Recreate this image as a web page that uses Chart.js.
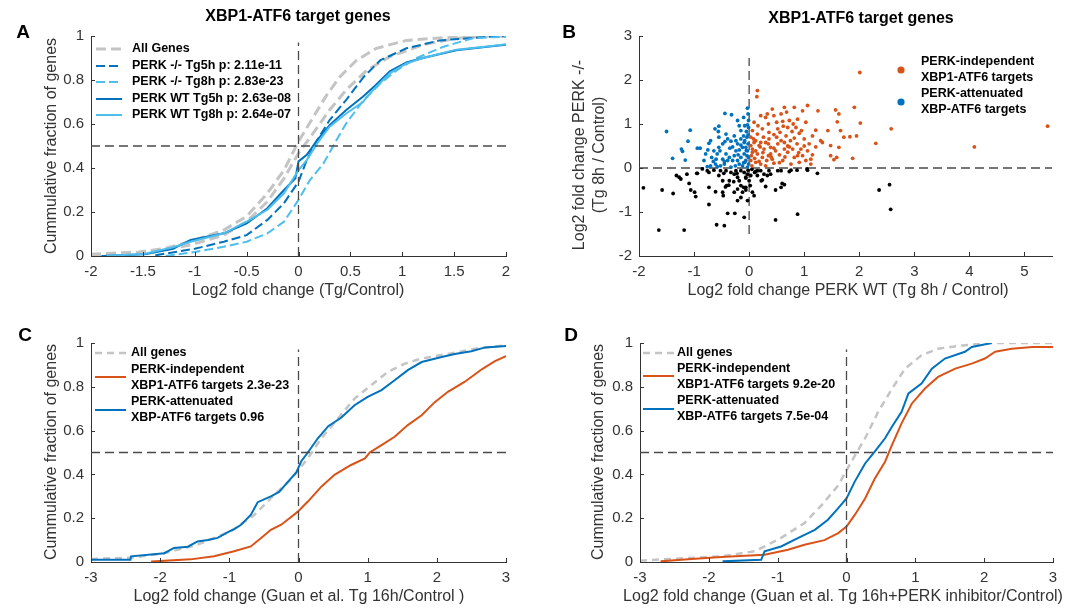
<!DOCTYPE html>
<html lang="en">
<head>
<meta charset="UTF-8">
<title>XBP1-ATF6 target genes</title>
<script src="https://cdn.jsdelivr.net/npm/chart.js"></script>
<style>
    body { margin: 0; background: #fff; }
    #wrap { position: relative; width: 1079px; height: 608px; }
    canvas { position: absolute; left: 0; top: 0; }
</style>
</head>
<body>
<div id="wrap">
    <canvas id="chartA" width="1079" height="608"></canvas>
    <canvas id="chartB" width="1079" height="608"></canvas>
    <canvas id="chartC" width="1079" height="608"></canvas>
    <canvas id="chartD" width="1079" height="608"></canvas>
</div>

<script>
    // ---- tick labels ----
    const aXTicks = [-2, -1.5, -1, -0.5, 0, 0.5, 1, 1.5, 2];
    const cdfYTicks = [0, 0.2, 0.4, 0.6, 0.8, 1];
    const bXTicks = [-2, -1, 0, 1, 2, 3, 4, 5];
    const bYTicks = [-2, -1, 0, 1, 2, 3];
    const cdXTicks = [-3, -2, -1, 0, 1, 2, 3];

    // ---- panel A: cumulative fractions ----
    const aAllX1 = [-2, -1.54, -1.28, -1.04, -0.72, -0.5, -0.3, -0.14, 0, 0.14, 0.27, 0.4, 0.56, 0.75, 1.04, 1.52, 2];
    const aAllY1 = [0.008, 0.018, 0.035, 0.065, 0.118, 0.18, 0.285, 0.39, 0.52, 0.63, 0.73, 0.815, 0.89, 0.944, 0.98, 0.997, 1.0];
    const aAllX2 = [-2, -1.54, -1.28, -1.04, -0.72, -0.5, -0.3, -0.14, 0, 0.14, 0.3, 0.46, 0.66, 0.88, 1.2, 1.52, 1.84, 2];
    const aAllY2 = [0.005, 0.015, 0.03, 0.05, 0.095, 0.156, 0.247, 0.353, 0.467, 0.557, 0.664, 0.755, 0.845, 0.906, 0.96, 0.99, 1.0, 1.0];
    const aKo5X = [-1.38, -1.0, -0.72, -0.5, -0.3, -0.14, 0, 0.08, 0.18, 0.3, 0.46, 0.63, 0.79, 1.04, 1.36, 1.84, 2];
    const aKo5Y = [0.003, 0.033, 0.065, 0.095, 0.164, 0.24, 0.338, 0.436, 0.527, 0.618, 0.71, 0.815, 0.89, 0.944, 0.98, 0.997, 1.0];
    const aKo8X = [-1.28, -1.0, -0.72, -0.5, -0.3, -0.14, 0, 0.11, 0.24, 0.34, 0.46, 0.63, 0.79, 0.95, 1.14, 1.39, 1.68, 2];
    const aKo8Y = [0.0, 0.018, 0.042, 0.065, 0.103, 0.156, 0.255, 0.345, 0.42, 0.505, 0.603, 0.71, 0.785, 0.845, 0.9, 0.95, 0.99, 0.997];
    const aWt5X = [-1.9, -1.48, -1.21, -1.04, -0.72, -0.5, -0.3, -0.14, -0.03, 0, 0.08, 0.18, 0.3, 0.46, 0.62, 0.74, 0.88, 1.04, 1.2, 1.52, 1.84, 2];
    const aWt5Y = [0.0, 0.008, 0.033, 0.073, 0.103, 0.148, 0.217, 0.3, 0.353, 0.43, 0.46, 0.527, 0.595, 0.664, 0.724, 0.775, 0.84, 0.88, 0.9, 0.935, 0.952, 0.96];
    const aWt8X = [-1.85, -1.48, -1.21, -1.04, -0.72, -0.5, -0.3, -0.14, 0, 0.08, 0.18, 0.3, 0.46, 0.62, 0.74, 0.88, 1.04, 1.2, 1.52, 1.84, 2];
    const aWt8Y = [0.0, 0.01, 0.04, 0.065, 0.103, 0.156, 0.21, 0.285, 0.39, 0.436, 0.512, 0.588, 0.648, 0.7, 0.765, 0.83, 0.875, 0.9, 0.938, 0.953, 0.962];
    const aLegend = ['All Genes', 'PERK -/- Tg5h p: 2.11e-11', 'PERK -/- Tg8h p: 2.83e-23', 'PERK WT Tg5h p: 2.63e-08', 'PERK WT Tg8h p: 2.64e-07'];

    // ---- panel B: scatter points ----
    const bBlackX = [-1.92, -1.58, -1.38, -1.64, -1.18, -1.32, -1.27, -1.24, -1.13, -1.09, -1.06, -0.99, -0.97, -0.95, -0.73, -0.73, -0.59, -0.45, -0.39, -0.26,
        -0.41, -0.36, -0.27, -0.21, -0.18, -0.15, -0.10, -0.06, -0.21, -0.48, -0.47, -0.21, -0.15, -0.09, -0.03, 0.06, 0.09, 0.15, 0.21, 0.27,
        0.36, 0.52, 0.58, 0.76, 0.87, 0.48, 0.88, 0.64, 0.58, 0.22, 0.15, 0.03, -0.03, -0.09, -0.15, -0.24, -0.33, -0.42, -0.52, -0.64,
        -0.76, -0.85, -0.94, 1.24, -0.06, 0.00, -0.48, -0.55, -0.27, -0.12, 0.02, 0.33, 0.39, 0.73, 2.36, 2.55, 2.57, 1.05,
        -0.73, -0.46, -0.22, -0.06, -0.28, -0.43, -0.61, -0.37, -0.06, 0.12, 0.24, 0.30, 0.48, 0.60, 1.06, -0.02, 0.05, 0.10];
    const bBlackY = [-0.45, -0.50, -0.58, -1.41, -1.41, -0.17, -0.21, -0.25, -0.14, -0.35, -0.50, -0.55, -0.65, -0.12, -0.44, -0.83, -1.29, -1.31, -1.03, -1.03,
        -0.40, -0.29, -0.14, -0.21, -0.29, -0.40, -0.44, -0.44, -0.48, -0.55, -0.63, -0.74, -0.67, -1.12, -0.74, -0.55, -0.63, -0.06, -0.06, -0.14,
        -0.06, -0.06, -0.06, -0.05, -0.05, -1.18, -1.05, -0.38, -0.44, -0.29, -0.17, -0.17, -0.14, -0.10, -0.06, -0.06, -0.10, -0.06, -0.06, -0.05,
        -0.06, -0.02, -0.12, -0.12, -0.21, -0.29, -0.29, -0.17, -0.55, -0.55, -0.40, -0.17, -0.14, -0.08, -0.50, -0.38, -0.94, -0.02,
        -0.10, -0.12, -0.12, -0.23, -0.31, -0.43, -0.54, -0.39, -0.50, -0.08, -0.27, -0.42, -0.50, -0.35, -0.05, -0.05, -0.03, -0.10];
    const bBlueX = [-1.50, -1.07, -1.11, -1.23, -1.21, -1.39, -1.16, -0.94, -0.89, -0.73, -0.75, -0.79, -0.68, -0.65, -0.76, -0.62, -0.56, -0.55, -0.44, -0.32,
        -0.42, -0.39, -0.33, -0.27, -0.21, -0.18, -0.15, -0.10, -0.08, -0.03, -0.02, -0.04, -0.09, -0.12, -0.21, -0.24, -0.27, -0.30, -0.36, -0.42,
        -0.48, -0.53, -0.58, -0.61, -0.52, -0.45, -0.39, -0.21, -0.15, -0.09, -0.06, -0.03, -0.02, -0.01, -0.12, -0.18, -0.33, -0.55, -0.64, -0.48,
        -0.44, -0.30, -0.18, -0.10, -0.05, -0.15, -0.24, -0.82, -0.70, -0.58, -0.01, -0.01, -0.01, -0.03, -0.04, -0.06, -0.08,
        -0.25, -0.20, -0.10, -0.05, -0.35, -0.45, -0.60, -0.15, -0.08, -0.02, -0.03, -0.55, -0.70];
    const bBlueY = [0.83, 0.86, 0.61, 0.43, 0.38, 0.22, 0.18, 0.45, 0.45, 0.56, 0.41, 0.32, 0.24, 0.15, 0.03, 0.89, 0.83, 0.70, 1.24, 1.21,
        0.77, 0.66, 0.61, 0.73, 1.08, 0.96, 0.85, 1.15, 0.96, 1.36, 1.23, 0.70, 0.58, 0.47, 0.55, 0.39, 0.28, 0.17, 0.24, 0.32,
        0.20, 0.39, 0.32, 0.09, 0.05, 0.09, 0.17, 0.17, 0.24, 0.32, 0.17, 0.39, 0.55, 0.09, 0.05, 0.09, 0.02, 0.47, 0.39, 0.55,
        0.60, 0.48, 0.41, 0.73, 0.83, 0.66, 0.62, 0.17, 0.05, 0.03, 1.08, 0.92, 0.24, 0.02, 0.28, 0.47, 0.13,
        0.05, 0.30, 0.12, 0.40, 0.45, 0.15, 0.20, 0.52, 0.62, 0.75, 0.98, 0.95, 0.62];
    const bOrangeX = [0.15, 0.14, 0.21, 0.30, 0.42, 0.45, 0.58, 0.68, 0.82, 0.97, 1.06, 0.09, 0.16, 0.24, 0.35, 0.50, 0.61, 0.73, 0.88, 1.03,
        0.06, 0.15, 0.26, 0.36, 0.45, 0.56, 0.67, 0.78, 0.91, 1.00, 0.09, 0.18, 0.27, 0.39, 0.52, 0.64, 0.75, 0.87, 0.94, 1.06,
        0.06, 0.15, 0.24, 0.35, 0.42, 0.55, 0.70, 0.82, 0.97, 1.12, 0.03, 0.12, 0.21, 0.32, 0.45, 0.61, 0.76, 0.91, 1.03, 1.12,
        0.06, 0.08, 0.36, 0.58, 0.73, 0.82, 1.09, 0.03, 0.03, 0.04, 0.12, 0.21, 0.30, 0.39, 0.48, 0.64, 0.79, 0.88, 0.52, 0.70,
        0.85, 0.33, 0.64, 2.01, 1.21, 1.30, 1.43, 1.57, 1.63, 1.60, 1.66, 1.72, 1.83, 1.91, 1.95, 2.02, 2.58, 2.30, 4.09, 1.33,
        1.48, 1.54, 1.59, 1.88, 1.63, 1.48, 1.15, 1.21, 1.25, 5.42, 0.05, 0.10, 0.18, 0.25, 0.30, 0.40, 0.45, 0.55, 0.65, 0.70,
        0.20, 0.12, 0.35, 0.50, 0.62, 0.80, 0.95, 1.00, 0.90, 1.15];
    const bOrangeY = [1.76, 1.62, 1.19, 1.15, 1.34, 1.19, 1.23, 1.27, 1.38, 1.30, 1.42, 1.04, 0.96, 0.89, 1.00, 1.04, 1.06, 1.08, 1.11, 1.04,
        0.85, 0.77, 0.70, 0.66, 0.76, 0.81, 0.73, 0.83, 0.79, 0.66, 0.58, 0.51, 0.43, 0.47, 0.55, 0.58, 0.62, 0.55, 0.43, 0.39,
        0.36, 0.32, 0.24, 0.28, 0.20, 0.30, 0.36, 0.24, 0.28, 0.20, 0.17, 0.13, 0.09, 0.17, 0.11, 0.17, 0.09, 0.13, 0.17, 0.09,
        0.43, 0.66, 0.81, 0.62, 0.48, 0.68, 0.55, 0.70, 0.51, 0.28, 0.39, 0.58, 0.58, 0.32, 0.39, 0.43, 0.43, 0.28, 0.89, 0.92,
        0.92, 1.23, 1.38, 2.17, 0.86, 0.62, 0.85, 1.32, 1.23, 1.05, 0.85, 0.70, 0.71, 1.38, 0.73, 1.02, 0.89, 0.56, 0.48, 0.58,
        0.28, 0.19, 0.24, 0.22, 0.47, 0.51, 0.73, 0.48, 1.30, 0.95, 0.05, 0.22, 0.15, 0.35, 0.05, 0.25, 0.45, 0.12, 0.25, 0.50,
        0.48, 0.62, 0.55, 0.70, 0.95, 1.00, 0.85, 0.50, 0.35, 0.30];
    const bLegend = ['PERK-independent', 'XBP1-ATF6 targets', 'PERK-attenuated', 'XBP-ATF6 targets'];

    // ---- panel C ----
    const cAllX = [-3, -2.4, -1.94, -1.46, -0.98, -0.64, -0.35, -0.1, 0.135, 0.33, 0.57, 0.81, 1.05, 1.29, 1.54, 1.78, 2.16, 2.55, 3];
    const cAllY = [0.014, 0.02, 0.04, 0.079, 0.14, 0.215, 0.307, 0.38, 0.473, 0.565, 0.655, 0.746, 0.807, 0.868, 0.906, 0.929, 0.95, 0.974, 0.99];
    const cIndX = [-2.13, -1.56, -1.22, -0.93, -0.69, -0.54, -0.4, -0.25, -0.13, -0.01, 0.135, 0.33, 0.52, 0.76, 0.96, 1.03, 1.2, 1.39, 1.58, 1.78, 1.97, 2.16, 2.4, 2.65, 2.84, 3];
    const cIndY = [0.002, 0.012, 0.026, 0.049, 0.071, 0.11, 0.147, 0.17, 0.2, 0.23, 0.276, 0.344, 0.398, 0.443, 0.473, 0.5, 0.534, 0.572, 0.625, 0.67, 0.73, 0.777, 0.822, 0.88, 0.917, 0.94];
    const cAttX = [-3, -2.43, -2.42, -1.94, -1.8, -1.6, -1.46, -1.31, -1.17, -1.0, -0.93, -0.83, -0.69, -0.59, -0.4, -0.28, -0.15, -0.03, 0.04, 0.135, 0.28, 0.43, 0.62, 0.81, 1.0, 1.2, 1.39, 1.58, 1.78, 2.07, 2.26, 2.5, 2.7, 3];
    const cAttY = [0.01, 0.01, 0.026, 0.04, 0.064, 0.07, 0.094, 0.1, 0.11, 0.14, 0.15, 0.17, 0.215, 0.273, 0.3, 0.32, 0.367, 0.41, 0.46, 0.5, 0.565, 0.62, 0.66, 0.716, 0.754, 0.785, 0.83, 0.876, 0.913, 0.936, 0.95, 0.962, 0.98, 0.986];
    const cLegend = ['All genes', 'PERK-independent', 'XBP1-ATF6 targets 2.3e-23', 'PERK-attenuated', 'XBP-ATF6 targets 0.96'];

    // ---- panel D ----
    const dAllX = [-3.0, -2.55, -1.82, -1.33, -0.95, -0.61, -0.36, -0.12, 0.07, 0.27, 0.46, 0.66, 0.85, 1.09, 1.33, 1.72, 2.1, 3];
    const dAllY = [0.006, 0.014, 0.026, 0.049, 0.11, 0.178, 0.26, 0.35, 0.458, 0.565, 0.686, 0.79, 0.883, 0.944, 0.974, 0.99, 1.0, 1.0];
    const dIndX = [-2.7, -2.3, -1.82, -1.19, -0.85, -0.61, -0.32, -0.12, 0, 0.12, 0.27, 0.41, 0.56, 0.66, 0.8, 0.95, 1.14, 1.33, 1.58, 1.82, 2.01, 2.16, 2.4, 2.7, 3];
    const dIndY = [0.003, 0.012, 0.023, 0.033, 0.056, 0.079, 0.1, 0.132, 0.162, 0.215, 0.29, 0.38, 0.458, 0.534, 0.633, 0.724, 0.792, 0.845, 0.883, 0.906, 0.929, 0.96, 0.974, 0.982, 0.982];
    const dAttX = [-1.8, -1.24, -1.19, -0.95, -0.7, -0.46, -0.27, -0.12, 0, 0.12, 0.27, 0.41, 0.56, 0.66, 0.8, 0.9, 1.09, 1.24, 1.43, 1.72, 1.82, 2.11];
    const dAttY = [0.003, 0.01, 0.049, 0.071, 0.11, 0.147, 0.193, 0.246, 0.29, 0.367, 0.45, 0.504, 0.565, 0.618, 0.686, 0.77, 0.815, 0.883, 0.929, 0.96, 0.982, 1.0];
    const dLegend = ['All genes', 'PERK-independent', 'XBP1-ATF6 targets 9.2e-20', 'PERK-attenuated', 'XBP-ATF6 targets 7.5e-04'];

    // dashed guide lines (data coordinates)
    const aGuideVx = [0, 0], aGuideVy = [0, 0.97], aGuideHx = [-2, 2], aGuideHy = [0.5, 0.5];
    const bGuideVx = [0, 0], bGuideVy = [-1.5, 2.5], bGuideHx = [-2, 5.5], bGuideHy = [0, 0];
    const cdGuideVx = [0, 0], cdGuideVy = [0, 0.97], cdGuideHx = [-3, 3], cdGuideHy = [0.5, 0.5];

    // ---- styling ----
    const W = 1079, H = 608;
    const AXIS = '#333333';
    const BLUE = '#0072BD', LIGHTBLUE = '#4DBEEE', ORANGE = '#D95319', GRAY = '#c4c4c4', GUIDE = '#4a4a4a';
    const FONT = '"Liberation Sans", Arial, Helvetica, sans-serif';
    Chart.defaults.font.family = FONT;
    Chart.defaults.animation = false;

    function pts(xs, ys) {
        return xs.map((x, i) => ({ x, y: ys[i] }));
    }

    function curve(xs, ys, color, width, dash) {
        return { data: pts(xs, ys), showLine: true, borderColor: color, borderWidth: width,
                 borderDash: dash || [], pointRadius: 0, fill: false, tension: 0 };
    }

    function guide(xs, ys) {
        return curve(xs, ys, GUIDE, 1.3, [9, 5]);
    }

    function dots(xs, ys, color) {
        return { data: pts(xs, ys), pointRadius: 1.9, pointBorderWidth: 0,
                 backgroundColor: color, borderColor: color };
    }

    function axisOpts(min, max, tickVals, size, pad) {
        return {
            type: 'linear', min, max,
            grid: { display: false, drawTicks: false, tickLength: 0 },
            border: { display: true, color: AXIS, width: 1 },
            ticks: { color: AXIS, font: { size: 15 }, padding: pad, autoSkip: false, maxRotation: 0,
                     callback: v => String(v) },
            afterBuildTicks: s => { s.ticks = tickVals.map(v => ({ value: v })); },
            afterFit: s => { if (s.isHorizontal()) s.height = size; else s.width = size; }
        };
    }

    // draws inward ticks, panel letter, title, axis titles and the legend
    const decor = {
        id: 'decor',
        afterDraw(chart, args, o) {
            const ctx = chart.ctx, a = chart.chartArea;
            const xs = chart.scales.x, ys = chart.scales.y;
            ctx.save();
            ctx.strokeStyle = AXIS;
            ctx.lineWidth = 1;
            ctx.beginPath();
            xs.ticks.forEach(t => {
                const p = Math.round(xs.getPixelForValue(t.value)) + 0.5;
                ctx.moveTo(p, a.bottom); ctx.lineTo(p, a.bottom - 4);
            });
            ys.ticks.forEach(t => {
                const p = Math.round(ys.getPixelForValue(t.value)) + 0.5;
                ctx.moveTo(a.left, p); ctx.lineTo(a.left + 4, p);
            });
            ctx.stroke();

            ctx.textBaseline = 'middle';
            ctx.textAlign = 'center';
            ctx.fillStyle = '#000';
            ctx.font = 'bold 19px ' + FONT;
            ctx.fillText(o.letter[0], o.letter[1], o.letter[2]);
            if (o.title) {
                ctx.font = 'bold 16px ' + FONT;
                ctx.fillText(o.title[0], o.title[1], o.title[2]);
            }

            ctx.fillStyle = AXIS;
            ctx.font = '16px ' + FONT;
            ctx.fillText(o.xLabel[0], o.xLabel[1], o.xLabel[2]);
            o.yLabel.forEach(([txt, px, py]) => {
                ctx.save();
                ctx.translate(px, py);
                ctx.rotate(-Math.PI / 2);
                ctx.fillText(txt, 0, 0);
                ctx.restore();
            });

            // legend samples
            (o.lines || []).forEach(l => {
                const ds = chart.data.datasets[l.ds];
                ctx.save();
                ctx.strokeStyle = ds.borderColor;
                ctx.lineWidth = ds.borderWidth;
                ctx.setLineDash(ds.borderDash || []);
                ctx.beginPath();
                ctx.moveTo(l.x1, l.y); ctx.lineTo(l.x2, l.y);
                ctx.stroke();
                ctx.restore();
            });
            (o.markers || []).forEach(m => {
                ctx.fillStyle = m.color;
                ctx.beginPath();
                ctx.arc(m.x, m.y, 3.6, 0, Math.PI * 2);
                ctx.fill();
            });
            ctx.fillStyle = '#000';
            ctx.textAlign = 'left';
            ctx.font = 'bold 12.5px ' + FONT;
            (o.labels || []).forEach(([txt, px, py]) => ctx.fillText(txt, px, py));
            ctx.restore();
        }
    };

    function panel(id, box, xMin, xMax, xTicks, yMin, yMax, yTicks, datasets, decorOpts) {
        return new Chart(document.getElementById(id), {
            type: 'scatter',
            data: { datasets },
            options: {
                responsive: false,
                animation: false,
                events: [],
                layout: { padding: { left: 0, top: box.top, right: W - box.right, bottom: 0 } },
                scales: {
                    x: axisOpts(xMin, xMax, xTicks, H - box.bottom, 7),
                    y: axisOpts(yMin, yMax, yTicks, box.left, 7)
                },
                plugins: { legend: { display: false }, tooltip: { enabled: false }, decor: decorOpts }
            },
            plugins: [decor]
        });
    }

    // A
    panel('chartA', { left: 91, right: 506, top: 36, bottom: 256 }, -2, 2, aXTicks, 0, 1, cdfYTicks, [
        guide(aGuideVx, aGuideVy),
        guide(aGuideHx, aGuideHy),
        curve(aWt8X, aWt8Y, LIGHTBLUE, 2),
        curve(aWt5X, aWt5Y, BLUE, 2),
        curve(aKo8X, aKo8Y, LIGHTBLUE, 2, [9, 4]),
        curve(aKo5X, aKo5Y, BLUE, 2, [9, 4]),
        curve(aAllX2, aAllY2, GRAY, 3, [10, 5]),
        curve(aAllX1, aAllY1, GRAY, 3, [10, 5])
    ], {
        letter: ['A', 23, 33],
        title: ['XBP1-ATF6 target genes', 298, 17],
        xLabel: ['Log2 fold change (Tg/Control)', 298, 291],
        yLabel: [['Cummulative fraction of genes', 52, 146]],
        lines: [
            { ds: 7, x1: 96, x2: 122, y: 49 },
            { ds: 5, x1: 96, x2: 122, y: 66 },
            { ds: 4, x1: 96, x2: 122, y: 82 },
            { ds: 3, x1: 96, x2: 122, y: 99 },
            { ds: 2, x1: 96, x2: 122, y: 115 }
        ],
        labels: [[aLegend[0], 132, 49], [aLegend[1], 132, 66], [aLegend[2], 132, 82], [aLegend[3], 132, 99], [aLegend[4], 132, 115]]
    });

    // B
    panel('chartB', { left: 639, right: 1052, top: 36, bottom: 256 }, -2, 5.5, bXTicks, -2, 3, bYTicks, [
        dots(bOrangeX, bOrangeY, ORANGE),
        dots(bBlueX, bBlueY, BLUE),
        dots(bBlackX, bBlackY, '#000000'),
        guide(bGuideVx, bGuideVy),
        guide(bGuideHx, bGuideHy)
    ], {
        letter: ['B', 569, 33],
        title: ['XBP1-ATF6 target genes', 861, 19],
        xLabel: ['Log2 fold change PERK WT (Tg 8h / Control)', 848, 291],
        yLabel: [['Log2 fold change PERK -/-', 580, 155], ['(Tg 8h / Control)', 600, 155]],
        markers: [{ color: ORANGE, x: 901, y: 70 }, { color: BLUE, x: 901, y: 102 }],
        labels: [[bLegend[0], 921, 62], [bLegend[1], 921, 78], [bLegend[2], 921, 94], [bLegend[3], 921, 110]]
    });

    // C
    panel('chartC', { left: 91, right: 506, top: 343, bottom: 562 }, -3, 3, cdXTicks, 0, 1, cdfYTicks, [
        guide(cdGuideVx, cdGuideVy),
        guide(cdGuideHx, cdGuideHy),
        curve(cAttX, cAttY, BLUE, 2),
        curve(cIndX, cIndY, ORANGE, 2),
        curve(cAllX, cAllY, GRAY, 2.5, [7, 5])
    ], {
        letter: ['C', 25, 336],
        xLabel: ['Log2 fold change (Guan et al. Tg 16h/Control )', 299, 597],
        yLabel: [['Cummulative fraction of genes', 52, 452]],
        lines: [
            { ds: 4, x1: 95, x2: 126, y: 353 },
            { ds: 3, x1: 95, x2: 126, y: 377 },
            { ds: 2, x1: 95, x2: 126, y: 410 }
        ],
        labels: [[cLegend[0], 131, 353], [cLegend[1], 131, 370], [cLegend[2], 131, 386], [cLegend[3], 131, 402], [cLegend[4], 131, 418]]
    });

    // D
    panel('chartD', { left: 640, right: 1053, top: 343, bottom: 562 }, -3, 3, cdXTicks, 0, 1, cdfYTicks, [
        guide(cdGuideVx, cdGuideVy),
        guide(cdGuideHx, cdGuideHy),
        curve(dAttX, dAttY, BLUE, 2),
        curve(dIndX, dIndY, ORANGE, 2),
        curve(dAllX, dAllY, GRAY, 2.5, [7, 5])
    ], {
        letter: ['D', 571, 336],
        xLabel: ['Log2 fold change (Guan et al. Tg 16h+PERK inhibitor/Control)', 843, 597],
        yLabel: [['Cummulative fraction of genes', 599, 452]],
        lines: [
            { ds: 4, x1: 643, x2: 674, y: 353 },
            { ds: 3, x1: 643, x2: 674, y: 376 },
            { ds: 2, x1: 643, x2: 674, y: 409 }
        ],
        labels: [[dLegend[0], 677, 353], [dLegend[1], 677, 369], [dLegend[2], 677, 385], [dLegend[3], 677, 401], [dLegend[4], 677, 417]]
    });
</script>
</body>
</html>
